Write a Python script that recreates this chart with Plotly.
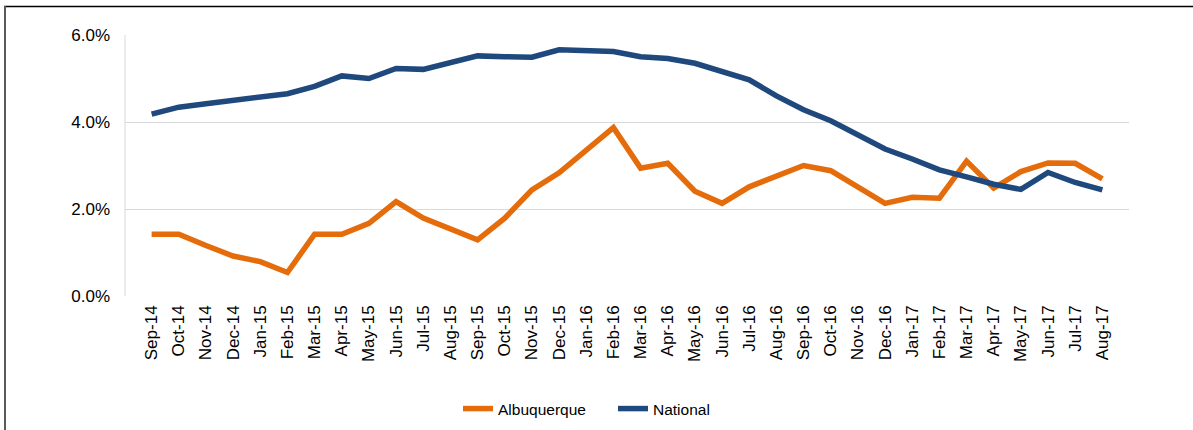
import plotly.graph_objects as go

months = ["Sep-14", "Oct-14", "Nov-14", "Dec-14", "Jan-15", "Feb-15", "Mar-15", "Apr-15",
          "May-15", "Jun-15", "Jul-15", "Aug-15", "Sep-15", "Oct-15", "Nov-15", "Dec-15",
          "Jan-16", "Feb-16", "Mar-16", "Apr-16", "May-16", "Jun-16", "Jul-16", "Aug-16",
          "Sep-16", "Oct-16", "Nov-16", "Dec-16", "Jan-17", "Feb-17", "Mar-17", "Apr-17",
          "May-17", "Jun-17", "Jul-17", "Aug-17"]

albuquerque = [1.42, 1.42, 1.16, 0.92, 0.79, 0.54, 1.42, 1.42, 1.67, 2.17, 1.79, 1.53,
               1.29, 1.79, 2.44, 2.83, 3.36, 3.87, 2.94, 3.05, 2.41, 2.13, 2.51, 2.76,
               3.00, 2.88, 2.50, 2.13, 2.27, 2.25, 3.10, 2.48, 2.86, 3.06, 3.05, 2.69]

national = [4.18, 4.34, 4.42, 4.50, 4.59, 4.65, 4.82, 5.06, 5.00, 5.23, 5.21, 5.36,
            5.52, 5.50, 5.49, 5.66, 5.65, 5.62, 5.50, 5.46, 5.35, 5.16, 4.97, 4.60,
            4.28, 4.03, 3.70, 3.38, 3.15, 2.90, 2.74, 2.57, 2.45, 2.84, 2.61, 2.44]

fig = go.Figure()
fig.add_trace(go.Scatter(x=months, y=albuquerque, name="Albuquerque", mode="lines",
                         line=dict(color="#E46C0A", width=5.5)))
fig.add_trace(go.Scatter(x=months, y=national, name="National", mode="lines",
                         line=dict(color="#1F497D", width=5.5)))

L, T, PW, PH = 125, 35, 1004, 261

def px_x(x):
    return (x - L) / PW

def px_y(y):
    return (T + PH - y) / PH

fig.update_layout(
    width=1193, height=430,
    margin=dict(l=L, r=1193 - L - PW, t=T, b=430 - T - PH, autoexpand=False),
    paper_bgcolor="white", plot_bgcolor="white",
    font=dict(family="Liberation Sans, Arial, sans-serif", size=15.5, color="#000000"),
    showlegend=True,
    legend=dict(orientation="h", x=px_x(458), xanchor="left", y=px_y(409), yanchor="middle",
                font=dict(size=15.5), itemwidth=30, entrywidth=110, entrywidthmode="pixels",
                bgcolor="rgba(0,0,0,0)"),
    xaxis=dict(type="category", range=[-0.98, 35.98], tickangle=-90, showgrid=False,
               showline=False, ticks="", tickfont=dict(size=17), ticklabelstandoff=5),
    yaxis=dict(range=[0, 6], dtick=2, tickformat=".1f", ticksuffix="%",
               showgrid=True, gridcolor="#D9D9D9", gridwidth=1, zeroline=False,
               showline=False, ticks="", ticklabelstandoff=14, tickfont=dict(size=17)),
    shapes=[
        dict(type="line", xref="paper", yref="paper", x0=px_x(4), x1=px_x(1200),
             y0=px_y(6.5), y1=px_y(6.5), line=dict(color="#000000", width=1.5)),
        dict(type="line", xref="paper", yref="paper", x0=px_x(5), x1=px_x(5),
             y0=px_y(6), y1=px_y(440), line=dict(color="#5A5A5A", width=2)),
        dict(type="line", xref="paper", yref="paper", x0=0, x1=0, y0=0, y1=1,
             line=dict(color="#D9D9D9", width=1), layer="below"),
    ],
)

fig.write_html("out.html", post_script="document.body.style.margin='0';",
               config={"displayModeBar": False})
